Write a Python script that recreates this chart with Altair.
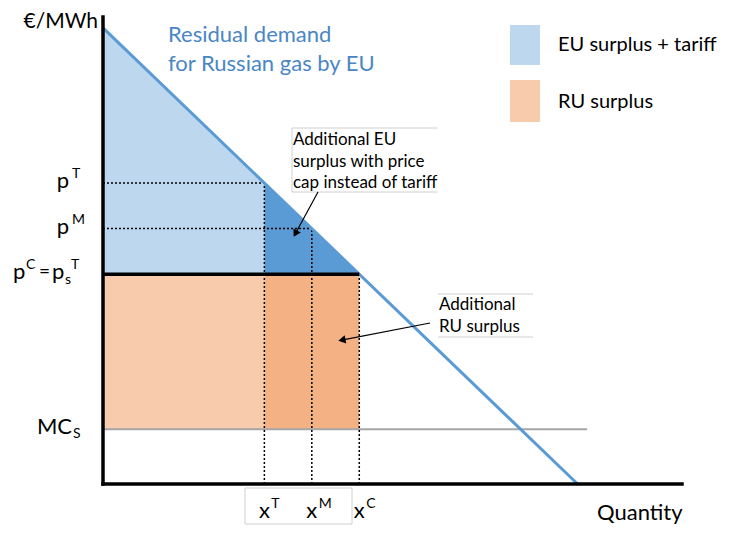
import math
import altair as alt
import pandas as pd

# ---------------- data (economic units) ----------------
sup_labels = ["T", "M", "C"]          # tariff, price cap (M), competitive
quantities = [34, 44, 54]             # x^T, x^M, x^C
prices = [66, 56, 46]                 # p^T, p^M, p^C (= p_s^T)
demand_q = [0, 100]
demand_p = [100, 0]
mc_s = 12                             # MC_S
mc_line_end = 102
q_max = 122
p_max = 102.4

legend_labels = ["EU surplus + tariff", "RU surplus"]
eu_note = ["Additional EU", "surplus with price", "cap instead of tariff"]
ru_note = ["Additional", "RU surplus"]

# ---------------- style ----------------
W, H = 579, 467
FONT = "Lato"
LIGHT_BLUE = "#BDD7EE"
DARK_BLUE = "#5B9BD5"
LIGHT_OR = "#F8CBAD"
DARK_OR = "#F4B183"
LINE_BLUE = "#5B9BD5"
TEXT_BLUE = "#4A86C5"
GREY = "#A6A6A6"
BOX = "#D0D0D0"

xs = alt.Scale(domain=[0, q_max], nice=False, zero=False)
ys = alt.Scale(domain=[0, p_max], nice=False, zero=False)
one = pd.DataFrame({"a": [0]})

layers = []

qT, qM, qC = quantities
pT, pM, pC = prices

# light blue EU surplus + tariff region
eu_df = pd.DataFrame({"x": [demand_q[0], qT], "y": [demand_p[0], pT], "y2": [pC, pC]})
layers.append(alt.Chart(eu_df).mark_area(color=LIGHT_BLUE, opacity=1).encode(
    x=alt.X("x:Q", scale=xs, axis=None), y=alt.Y("y:Q", scale=ys, axis=None), y2="y2:Q"))
# dark blue additional EU surplus
dk_df = pd.DataFrame({"x": [qT, qC], "y": [pT, pC], "y2": [pC, pC]})
layers.append(alt.Chart(dk_df).mark_area(color=DARK_BLUE, opacity=1).encode(
    x=alt.X("x:Q", scale=xs, axis=None), y=alt.Y("y:Q", scale=ys, axis=None), y2="y2:Q"))
# orange rectangles
or_df = pd.DataFrame({"x": [0], "x2": [qT], "y": [mc_s], "y2": [pC]})
layers.append(alt.Chart(or_df).mark_rect(color=LIGHT_OR, opacity=1).encode(
    x=alt.X("x:Q", scale=xs, axis=None), x2="x2:Q", y=alt.Y("y:Q", scale=ys, axis=None), y2="y2:Q"))
or2_df = pd.DataFrame({"x": [qT], "x2": [qC], "y": [mc_s], "y2": [pC]})
layers.append(alt.Chart(or2_df).mark_rect(color=DARK_OR, opacity=1).encode(
    x=alt.X("x:Q", scale=xs, axis=None), x2="x2:Q", y=alt.Y("y:Q", scale=ys, axis=None), y2="y2:Q"))

# MC line
mc_df = pd.DataFrame({"x": [0], "x2": [mc_line_end], "y": [mc_s]})
layers.append(alt.Chart(mc_df).mark_rule(color=GREY, strokeWidth=2).encode(
    x=alt.X("x:Q", scale=xs, axis=None), x2="x2:Q", y=alt.Y("y:Q", scale=ys, axis=None)))

# dotted guide lines
dots = pd.DataFrame({
    "x": [0, 0, qT, qM, qC],
    "x2": [qT, qM, qT, qM, qC],
    "y": [pT, pM, 0, 0, 0],
    "y2": [pT, pM, pT, pM, pC],
})
layers.append(alt.Chart(dots).mark_rule(color="black", strokeWidth=1.5, strokeDash=[2, 2]).encode(
    x=alt.X("x:Q", scale=xs, axis=None), x2="x2:Q",
    y=alt.Y("y:Q", scale=ys, axis=None), y2="y2:Q"))

# demand line
dem = pd.DataFrame({"x": demand_q, "y": demand_p})
layers.append(alt.Chart(dem).mark_line(color=LINE_BLUE, strokeWidth=3).encode(
    x=alt.X("x:Q", scale=xs, axis=None), y=alt.Y("y:Q", scale=ys, axis=None)))

# thick p^C line
pc_df = pd.DataFrame({"x": [0], "x2": [qC], "y": [pC]})
layers.append(alt.Chart(pc_df).mark_rule(color="black", strokeWidth=3.5).encode(
    x=alt.X("x:Q", scale=xs, axis=None), x2="x2:Q", y=alt.Y("y:Q", scale=ys, axis=None)))

# axes
ax_df = pd.DataFrame({"x": [0, 0], "x2": [q_max, 0], "y": [0, 0], "y2": [0, p_max]})
layers.append(alt.Chart(ax_df).mark_rule(color="black", strokeWidth=3.5, strokeCap="square").encode(
    x=alt.X("x:Q", scale=xs, axis=None), x2="x2:Q", y=alt.Y("y:Q", scale=ys, axis=None), y2="y2:Q"))


def txt(text, x, y, size=22, align="left", color="black", dx=0, dy=0):
    return alt.Chart(pd.DataFrame({"t": [text]})).mark_text(
        align=align, baseline="middle", fontSize=size, font=FONT, color=color, dx=dx, dy=dy
    ).encode(text="t:N", x=x, y=y)


def px(v):
    return alt.value(v)


def yd(v):
    return alt.YDatum(v, scale=ys, axis=None)


def xd(v):
    return alt.XDatum(v, scale=xs, axis=None)


# axis titles
layers.append(txt("€/MWh", px(-5), px(5), size=21, align="right"))
layers.append(txt("Quantity", px(494), px(496), size=22))

# demand label
layers.append(txt("Residual demand", px(65), px(18), size=22, color=TEXT_BLUE))
layers.append(txt("for Russian gas by EU", px(65), px(47), size=22, color=TEXT_BLUE))

# y labels
for p, s in [(pT, sup_labels[0]), (pM, sup_labels[1])]:
    layers.append(txt("p", px(-34), yd(p), size=22, align="right", dy=-2))
    layers.append(txt(s, px(-31), yd(p), size=14, dy=-9))
# p^C = p_s^T
layers.append(txt("p", px(-90), yd(pC), size=22, dy=-2))
layers.append(txt(sup_labels[2], px(-77), yd(pC), size=14, dy=-9))
layers.append(txt("=", px(-64), yd(pC), size=19, dy=-2))
layers.append(txt("p", px(-51), yd(pC), size=22, dy=-2))
layers.append(txt("s", px(-38), yd(pC), size=14, dy=6))
layers.append(txt(sup_labels[0], px(-32), yd(pC), size=14, dy=-9))
# MC_S
layers.append(txt("MC", px(-31), yd(mc_s), size=22, align="right", dy=-2))
layers.append(txt("S", px(-30), yd(mc_s), size=14, dy=5))

# x-label box
layers.append(alt.Chart(one).mark_rect(fill="white", fillOpacity=0, stroke=BOX, strokeWidth=1).encode(
    x=px(142), x2=px(249), y=px(471), y2=px(507)))

# x labels
for q, s in zip(quantities, sup_labels):
    layers.append(txt("x", xd(q), px(494), size=22, align="center"))
    layers.append(txt(s, xd(q), px(487), size=14, dx=7))

# legend
layers.append(alt.Chart(one).mark_rect(color=LIGHT_BLUE).encode(x=px(407), x2=px(437), y=px(8), y2=px(48)))
layers.append(alt.Chart(one).mark_rect(color=LIGHT_OR).encode(x=px(407), x2=px(437), y=px(63), y2=px(105)))
layers.append(txt(legend_labels[0], px(455), px(28), size=20))
layers.append(txt(legend_labels[1], px(455), px(85), size=20))

# annotation boxes
for (x1, x2, y1, y2) in [(189, 335, 111, 111), (189, 335, 175, 175), (189, 189, 111, 175),
                         (335, 430, 277, 277), (335, 430, 320, 320)]:
    layers.append(alt.Chart(one).mark_rule(color=BOX, strokeWidth=1).encode(
        x=px(x1), x2=px(x2), y=px(y1), y2=px(y2)))

for i, line in enumerate(eu_note):
    layers.append(txt(line, px(190), px(123 + 21.5 * i), size=17))
for i, line in enumerate(ru_note):
    layers.append(txt(line, px(336), px(288 + 22 * i), size=17))


# arrows
def arrow(x0, y0, x1, y1):
    L = math.hypot(x1 - x0, y1 - y0)
    ux, uy = (x1 - x0) / L, (y1 - y0) / L
    ang = math.degrees(math.atan2(ux, -uy)) % 360
    out = [alt.Chart(one).mark_rule(color="black", strokeWidth=1.2).encode(
        x=px(x0), x2=px(x1 - 6 * ux), y=px(y0), y2=px(y1 - 6 * uy))]
    out.append(alt.Chart(one).mark_point(shape="triangle-up", filled=True, color="black",
                                         opacity=1, size=70, angle=ang).encode(
        x=px(x1 - 5 * ux), y=px(y1 - 5 * uy)))
    return out


layers += arrow(215, 175, 190, 221)
layers += arrow(327, 306, 234, 324)

chart = alt.layer(*layers).properties(
    width=W, height=H,
    autosize=alt.AutoSizeParams(type="none"),
    padding={"left": 95, "top": 9, "right": 44, "bottom": 41},
    background="white",
).configure_view(stroke=None)

chart.save("out.html", embed_options={"renderer": "svg", "actions": False})
